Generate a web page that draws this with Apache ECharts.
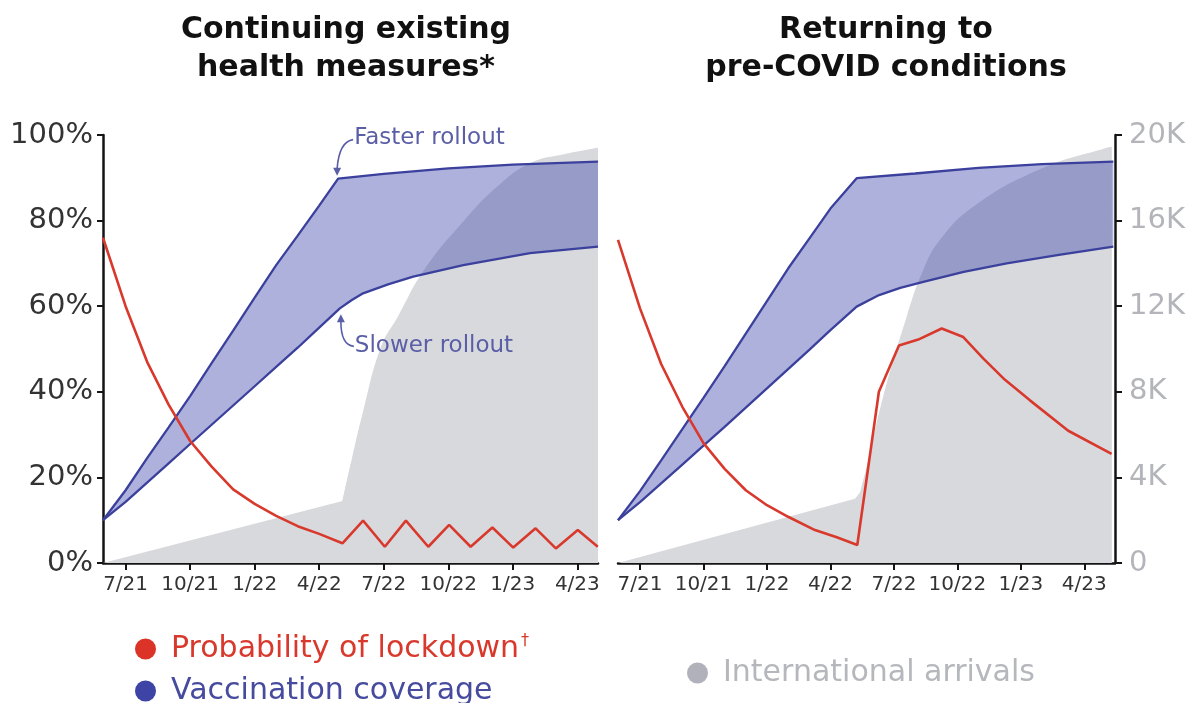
<!DOCTYPE html>
<html>
<head>
<meta charset="utf-8">
<script src="https://cdn.jsdelivr.net/npm/echarts@6/dist/echarts.min.js"></script>
<style>
html,body{margin:0;padding:0;background:#fff;}
#main{width:1194px;height:703px;}
</style>
</head>
<body>
<div id="main"></div>
<script>
// x values are months counted from Jan 2021 (6 = Jul 2021)
const tickMonths = [6, 9, 12, 15, 18, 21, 24, 27];
const tickLabels = ['7/21', '10/21', '1/22', '4/22', '7/22', '10/22', '1/23', '4/23'];
const pctTicks = [0, 20, 40, 60, 80, 100];
const arrivalTicks = [0, 4, 8, 12, 16, 20]; // thousands

// Left panel: continuing existing health measures
const lockdownLeft = [[4.95,76],[6,60],[7,47],[8,37],[9,28.5],[10,22.5],[11,17.2],[12,13.8],[13,11],[14,8.6],[15,6.8],[16.08,4.6],[17.04,9.9],[18.05,3.8],[19.03,9.9],[20.07,3.8],[21.04,8.9],[22.04,3.8],[23.05,8.3],[24.02,3.6],[25.06,8.1],[26,3.4],[27.02,7.7],[27.95,3.8]];
const vaccFastLeft = [[4.95,10],[6,17],[7,24.5],[8,31.7],[9,39],[10,46.7],[11,54.3],[12,62],[13,69.6],[14,76.5],[15,83.5],[15.88,89.8],[18,90.9],[21,92.2],[24,93.1],[27.96,93.8]];
const vaccSlowLeft = [[4.95,10],[6,14.3],[7,18.8],[8,23.3],[9,27.8],[10,32.3],[11,36.8],[12,41.3],[13,45.8],[14,50.3],[15,55],[15.96,59.5],[16.5,61.4],[17.04,63],[18.2,65.1],[19.37,66.9],[21.7,69.6],[24.8,72.4],[27.96,73.9]];
const arrivalsLeft = [[4.95,0],[16.08,2.9],[16.48,4.7],[17.02,7.0],[17.87,10.1],[18.65,11.5],[19.88,13.7],[21.74,16.0],[23.29,17.6],[24.84,18.7],[26.39,19.1],[27.96,19.4]];

// Right panel: returning to pre-COVID conditions
const lockdownRight = [[4.96,75.5],[6,59.5],[7,46.5],[8,36.5],[9,28],[10,22],[11,17],[12,13.5],[13,10.8],[14.27,7.7],[15.3,6],[16.27,4.2],[17.29,40],[18.24,50.8],[19.15,52.2],[20.26,54.8],[21.28,52.8],[22.22,47.8],[23.25,42.8],[24.43,38],[26.24,30.9],[28.29,25.5]];
const vaccFastRight = [[4.96,10],[6,16.8],[7,24],[8,31.3],[9,38.6],[10,46],[11,53.6],[12,61.2],[13,68.8],[14,75.8],[15,82.8],[16.24,89.9],[19,91],[22,92.3],[25,93.2],[28.37,93.8]];
const vaccSlowRight = [[4.96,10],[6,14.2],[7,18.6],[8,23],[9,27.4],[10,31.8],[11,36.3],[12,40.8],[13,45.3],[14,49.8],[15,54.4],[16.24,59.9],[17.3,62.6],[18.3,64.3],[19.39,65.7],[21.3,68],[23.33,70],[25.8,72],[28.37,73.9]];
const arrivalsRight = [[4.96,0],[16.16,3.0],[16.4,3.3],[17.5,7.8],[18.6,11.5],[19.39,13.7],[20.18,15.1],[21.75,16.65],[24.9,18.4],[28.06,19.4],[28.3,19.45]];

const FONT = 'DejaVu Sans';
const RED = '#d8392c';
const BLUE = '#3b409c';
const BAND = 'rgba(60,70,172,0.42)';
const GRAY = '#d8d9dd';
const AXIS = '#141414';

function xAxisCfg(gridIndex, min, max) {
  return {
    type: 'value', gridIndex, min, max,
    axisLine: { show: true, onZero: false, lineStyle: { color: AXIS, width: 2.5 } },
    axisTick: { show: true, customValues: tickMonths, length: 7, lineStyle: { color: AXIS, width: 2 } },
    axisLabel: { customValues: tickMonths, fontSize: 20, color: '#333', margin: 12, fontFamily: FONT,
      formatter: v => { const i = tickMonths.indexOf(Math.round(v)); return i >= 0 ? tickLabels[i] : ''; } },
    splitLine: { show: false }
  };
}

function bandSeries(xi, yi, fast, slow) {
  return {
    type: 'custom', name: 'Vaccination coverage', xAxisIndex: xi, yAxisIndex: yi,
    data: fast, encode: { x: 0, y: 1 }, z: 3, silent: true,
    itemStyle: { color: BLUE },
    renderItem: (params, api) => {
      if (params.dataIndex !== 0) return null;
      const pts = fast.map(p => api.coord(p)).concat(slow.slice().reverse().map(p => api.coord(p)));
      return { type: 'polygon', shape: { points: pts }, style: { fill: BAND } };
    }
  };
}

function lineSeries(name, xi, yi, data, color, width, z) {
  return { type: 'line', name, xAxisIndex: xi, yAxisIndex: yi, data, symbol: 'none', z,
    itemStyle: { color }, lineStyle: { color, width }, silent: true };
}

function arrivalsSeries(xi, yi, data) {
  const k = 1; // corner index where the steep rise begins
  const base = { type: 'line', name: 'International arrivals', xAxisIndex: xi, yAxisIndex: yi, symbol: 'none', z: 1,
    itemStyle: { color: GRAY }, lineStyle: { width: 0 }, areaStyle: { color: GRAY, opacity: 1 }, silent: true };
  return [
    Object.assign({}, base, { data: data.slice(0, k + 2) }),
    Object.assign({}, base, { data: data.slice(k), smooth: 0.45 })
  ];
}

const chart = echarts.init(document.getElementById('main'), null, { renderer: 'canvas' });

const option = {
  animation: false,
  backgroundColor: '#fff',
  textStyle: { fontFamily: FONT },
  grid: [
    { left: 103, width: 495, top: 135, height: 428 },
    { left: 618, width: 497, top: 135, height: 428 }
  ],
  xAxis: [xAxisCfg(0, 4.95, 27.96), xAxisCfg(1, 4.96, 28.45)],
  yAxis: [
    { type: 'value', gridIndex: 0, min: 0, max: 100, interval: 20, position: 'left',
      axisLine: { show: true, lineStyle: { color: AXIS, width: 2.5 } },
      axisTick: { show: true, length: 6, lineStyle: { color: AXIS, width: 2 } },
      axisLabel: { formatter: '{value}%', fontSize: 29, color: '#333', margin: 10, fontFamily: FONT },
      splitLine: { show: false } },
    { type: 'value', gridIndex: 0, min: 0, max: 20, show: false },
    { type: 'value', gridIndex: 1, min: 0, max: 100, show: false },
    { type: 'value', gridIndex: 1, min: 0, max: 20, interval: 4, position: 'right',
      axisLine: { show: true, lineStyle: { color: AXIS, width: 2.5 } },
      axisTick: { show: true, length: 7, lineStyle: { color: AXIS, width: 2 } },
      axisLabel: { formatter: v => v === 0 ? '0' : v + 'K', fontSize: 29, color: '#b4b5ba', margin: 14, fontFamily: FONT },
      splitLine: { show: false } }
  ],
  legend: [
    { left: 130, top: 628, icon: 'circle', itemWidth: 21, itemHeight: 21, selectedMode: false,
      data: [{ name: 'Probability of lockdown', itemStyle: { color: '#db3328' } }],
      formatter: n => n + '{sup|†}',
      textStyle: { color: RED, fontSize: 30, fontFamily: FONT, padding: [0, 0, 0, 10],
        rich: { sup: { fontSize: 16, color: RED, fontFamily: FONT, padding: [0, 0, 16, 2] } } } },
    { left: 130, top: 671, icon: 'circle', itemWidth: 21, itemHeight: 21, selectedMode: false,
      data: [{ name: 'Vaccination coverage', itemStyle: { color: '#3e44a6' } }],
      textStyle: { color: '#464b9e', fontSize: 30, fontFamily: FONT, padding: [0, 0, 0, 10] } },
    { left: 682, top: 653, icon: 'circle', itemWidth: 21, itemHeight: 21, selectedMode: false,
      data: [{ name: 'International arrivals', itemStyle: { color: '#b0b1ba' } }],
      textStyle: { color: '#b6b7bc', fontSize: 30, fontFamily: FONT, padding: [0, 0, 0, 10] } }
  ],
  series: [
    ...arrivalsSeries(0, 1, arrivalsLeft),
    bandSeries(0, 0, vaccFastLeft, vaccSlowLeft),
    lineSeries('Vaccination coverage', 0, 0, vaccFastLeft, BLUE, 2.3, 4),
    lineSeries('Vaccination coverage', 0, 0, vaccSlowLeft, BLUE, 2.3, 4),
    lineSeries('Probability of lockdown', 0, 0, lockdownLeft, RED, 2.6, 5),
    ...arrivalsSeries(1, 3, arrivalsRight),
    bandSeries(1, 2, vaccFastRight, vaccSlowRight),
    lineSeries('Vaccination coverage', 1, 2, vaccFastRight, BLUE, 2.3, 4),
    lineSeries('Vaccination coverage', 1, 2, vaccSlowRight, BLUE, 2.3, 4),
    lineSeries('Probability of lockdown', 1, 2, lockdownRight, RED, 2.6, 5)
  ]
};
chart.setOption(option);

// Titles and rollout annotations, anchored through the chart's own coordinate conversion
const kF = chart.convertToPixel({ xAxisIndex: 0, yAxisIndex: 0 }, vaccFastLeft[11]);
const kS = chart.convertToPixel({ xAxisIndex: 0, yAxisIndex: 0 }, vaccSlowLeft[11]);
const ANN = '#5a5ea6';
function titleText(text, x, y) {
  return { type: 'text', x, y, silent: true, z: 100,
    style: { text, fontSize: 30, fontWeight: 'bold', fontFamily: FONT, fill: '#111', align: 'center', verticalAlign: 'middle' } };
}
chart.setOption({
  graphic: [
    titleText('Continuing existing', 346, 30),
    titleText('health measures*', 346, 68),
    titleText('Returning to', 886, 30),
    titleText('pre-COVID conditions', 886, 68),
    { type: 'text', x: kF[0] + 16, y: kF[1] - 41, silent: true, z: 100,
      style: { text: 'Faster rollout', fontSize: 23, fontFamily: FONT, fill: ANN, verticalAlign: 'middle' } },
    { type: 'bezierCurve', silent: true, z: 100,
      shape: { x1: kF[0] + 15, y1: kF[1] - 39, cpx1: kF[0] + 1, cpy1: kF[1] - 37, x2: kF[0] - 1, y2: kF[1] - 10 },
      style: { stroke: ANN, lineWidth: 1.6, fill: null } },
    { type: 'polygon', silent: true, z: 100,
      shape: { points: [[kF[0] - 5, kF[1] - 11], [kF[0] + 3, kF[1] - 11], [kF[0] - 1, kF[1] - 3]] },
      style: { fill: ANN } },
    { type: 'text', x: kS[0] + 15, y: kS[1] + 38, silent: true, z: 100,
      style: { text: 'Slower rollout', fontSize: 23, fontFamily: FONT, fill: ANN, verticalAlign: 'middle' } },
    { type: 'bezierCurve', silent: true, z: 100,
      shape: { x1: kS[0] + 14, y1: kS[1] + 38, cpx1: kS[0] + 1, cpy1: kS[1] + 37, x2: kS[0] + 1, y2: kS[1] + 13 },
      style: { stroke: ANN, lineWidth: 1.6, fill: null } },
    { type: 'polygon', silent: true, z: 100,
      shape: { points: [[kS[0] - 3, kS[1] + 14], [kS[0] + 5, kS[1] + 14], [kS[0] + 1, kS[1] + 6]] },
      style: { fill: ANN } }
  ]
});
</script>
</body>
</html>
